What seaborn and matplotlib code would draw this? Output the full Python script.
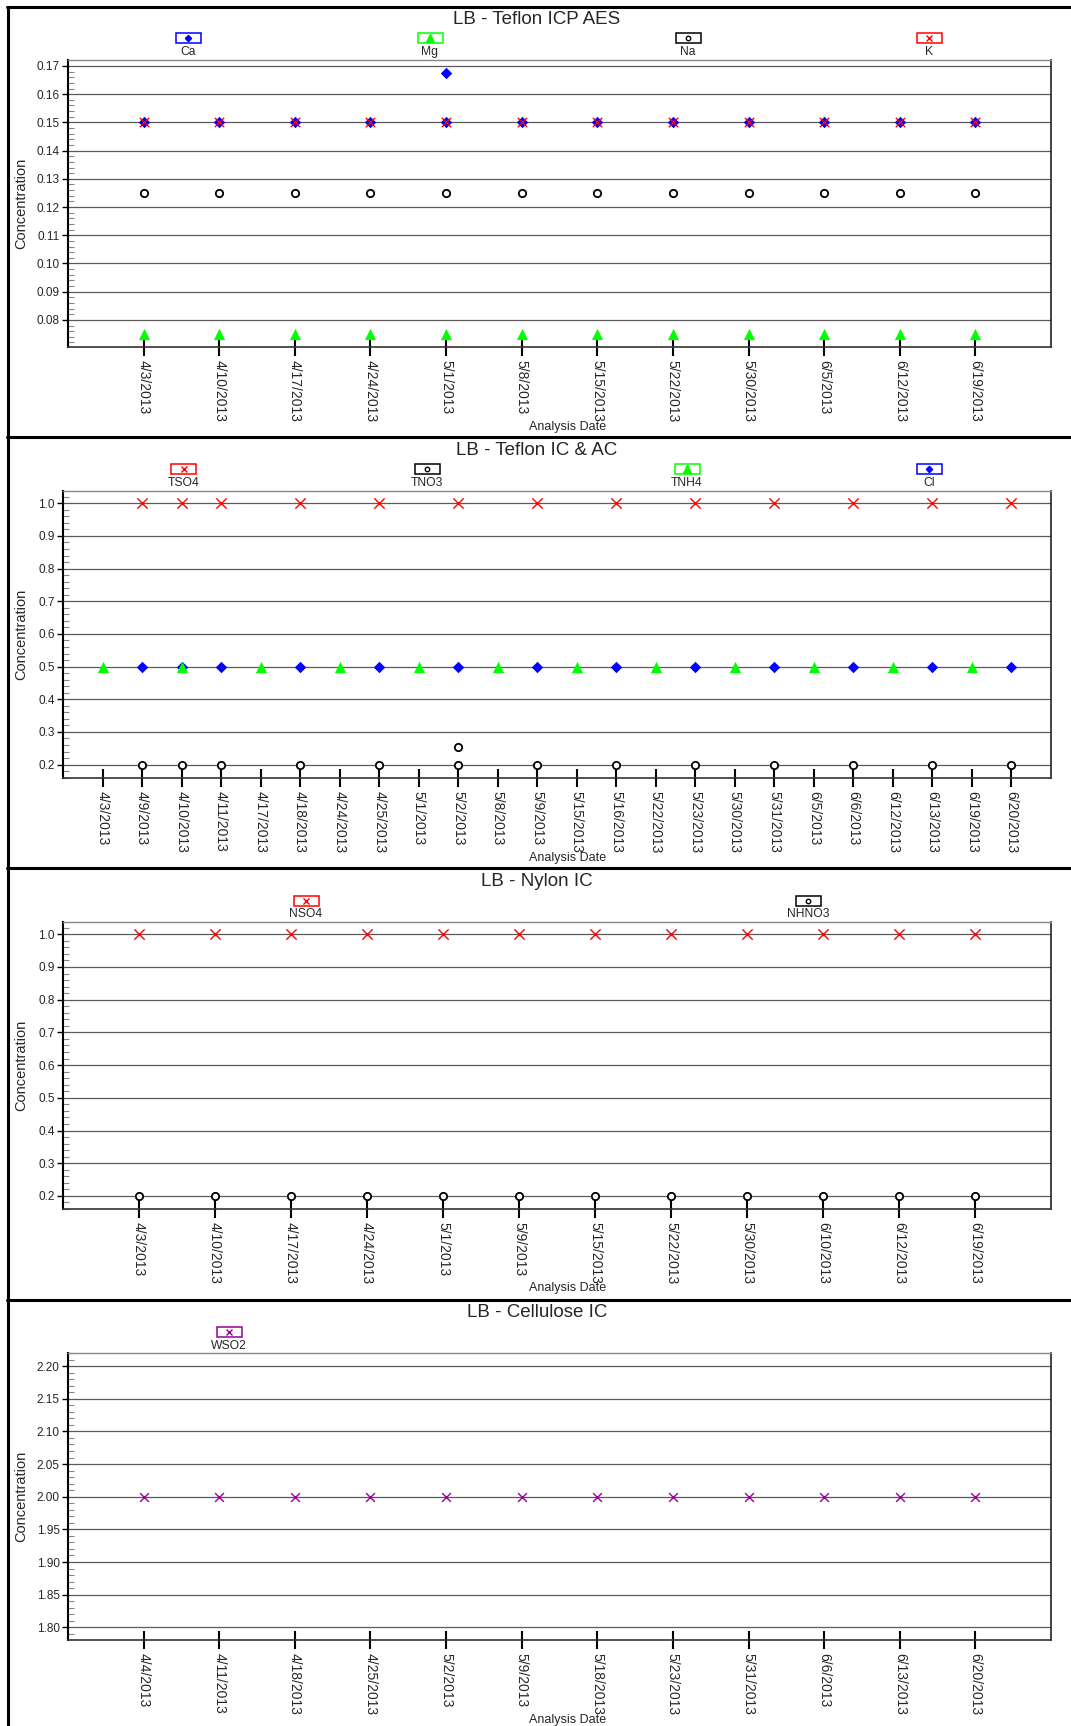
import matplotlib
matplotlib.use('Agg')
import matplotlib.pyplot as plt
import seaborn as sns
import pandas as pd
from matplotlib.ticker import MultipleLocator, AutoMinorLocator, FormatStrFormatter
from matplotlib.patches import Rectangle
from matplotlib.lines import Line2D

# ---------------- data ----------------
# LB - Teflon ICP AES
icp_dates = ['4/3/2013', '4/10/2013', '4/17/2013', '4/24/2013', '5/1/2013', '5/8/2013',
             '5/15/2013', '5/22/2013', '5/30/2013', '6/5/2013', '6/12/2013', '6/19/2013']
ca_dates = ['4/3/2013', '4/10/2013', '4/17/2013', '4/24/2013', '5/1/2013', '5/1/2013', '5/8/2013',
            '5/15/2013', '5/22/2013', '5/30/2013', '6/5/2013', '6/12/2013', '6/19/2013']
ca_vals = [0.15, 0.15, 0.15, 0.15, 0.15, 0.1675, 0.15, 0.15, 0.15, 0.15, 0.15, 0.15, 0.15]
mg_vals = [0.075, 0.075, 0.075, 0.075, 0.075, 0.075, 0.075, 0.075, 0.075, 0.075, 0.075, 0.075]
na_vals = [0.125, 0.125, 0.125, 0.125, 0.125, 0.125, 0.125, 0.125, 0.125, 0.125, 0.125, 0.125]
k_vals = [0.15, 0.15, 0.15, 0.15, 0.15, 0.15, 0.15, 0.15, 0.15, 0.15, 0.15, 0.15]

# LB - Teflon IC & AC
ic_dates = ['4/3/2013', '4/9/2013', '4/10/2013', '4/11/2013', '4/17/2013', '4/18/2013',
            '4/24/2013', '4/25/2013', '5/1/2013', '5/2/2013', '5/8/2013', '5/9/2013',
            '5/15/2013', '5/16/2013', '5/22/2013', '5/23/2013', '5/30/2013', '5/31/2013',
            '6/5/2013', '6/6/2013', '6/12/2013', '6/13/2013', '6/19/2013', '6/20/2013']
tso4_dates = ['4/9/2013', '4/10/2013', '4/11/2013', '4/18/2013', '4/25/2013', '5/2/2013',
              '5/9/2013', '5/16/2013', '5/23/2013', '5/31/2013', '6/6/2013', '6/13/2013', '6/20/2013']
tso4_vals = [1.0, 1.0, 1.0, 1.0, 1.0, 1.0, 1.0, 1.0, 1.0, 1.0, 1.0, 1.0, 1.0]
tno3_dates = ['4/9/2013', '4/10/2013', '4/11/2013', '4/18/2013', '4/25/2013', '5/2/2013', '5/2/2013',
              '5/9/2013', '5/16/2013', '5/23/2013', '5/31/2013', '6/6/2013', '6/13/2013', '6/20/2013']
tno3_vals = [0.2, 0.2, 0.2, 0.2, 0.2, 0.2, 0.253, 0.2, 0.2, 0.2, 0.2, 0.2, 0.2, 0.2]
tnh4_dates = ['4/3/2013', '4/10/2013', '4/17/2013', '4/24/2013', '5/1/2013', '5/8/2013',
              '5/15/2013', '5/22/2013', '5/30/2013', '6/5/2013', '6/12/2013', '6/19/2013']
tnh4_vals = [0.5, 0.5, 0.5, 0.5, 0.5, 0.5, 0.5, 0.5, 0.5, 0.5, 0.5, 0.5]
cl_dates = ['4/9/2013', '4/10/2013', '4/11/2013', '4/18/2013', '4/25/2013', '5/2/2013',
            '5/9/2013', '5/16/2013', '5/23/2013', '5/31/2013', '6/6/2013', '6/13/2013', '6/20/2013']
cl_vals = [0.5, 0.5, 0.5, 0.5, 0.5, 0.5, 0.5, 0.5, 0.5, 0.5, 0.5, 0.5, 0.5]

# LB - Nylon IC
nylon_dates = ['4/3/2013', '4/10/2013', '4/17/2013', '4/24/2013', '5/1/2013', '5/9/2013',
               '5/15/2013', '5/22/2013', '5/30/2013', '6/10/2013', '6/12/2013', '6/19/2013']
nso4_vals = [1.0, 1.0, 1.0, 1.0, 1.0, 1.0, 1.0, 1.0, 1.0, 1.0, 1.0, 1.0]
nhno3_vals = [0.2, 0.2, 0.2, 0.2, 0.2, 0.2, 0.2, 0.2, 0.2, 0.2, 0.2, 0.2]

# LB - Cellulose IC
cell_dates = ['4/4/2013', '4/11/2013', '4/18/2013', '4/25/2013', '5/2/2013', '5/9/2013',
              '5/18/2013', '5/23/2013', '5/31/2013', '6/6/2013', '6/13/2013', '6/20/2013']
wso2_vals = [2.0, 2.0, 2.0, 2.0, 2.0, 2.0, 2.0, 2.0, 2.0, 2.0, 2.0, 2.0]

# ---------------- styles ----------------
sns.set_style('white')
plt.rcParams['font.family'] = ['Liberation Sans', 'DejaVu Sans']

diamond = dict(marker='D', s=34, color='#0000ff', linewidth=0)
triangle = dict(marker='^', s=66, color='#00ff00', linewidth=0)
circle = dict(marker='o', s=28, facecolor='white', edgecolor='black', linewidth=1.3)
cross = dict(marker='x', s=55, color='#ff0000', linewidth=1.0)
cross_k = dict(marker='x', s=45, color='#ff0000', linewidth=1.0)
cross_p = dict(marker='x', s=40, color='#990099', linewidth=1.0)

# legend key: (marker, size, color)
key_diamond = ('D', 3.2, '#0000ff')
key_triangle = ('^', 5.5, '#00ff00')
key_circle = ('o', 3.2, 'black')
key_cross = ('x', 5, '#ff0000')
key_cross_p = ('x', 5, '#990099')

W, H = 1071, 1726


def fx(p):
    return p / W


def fy(p):
    return 1 - p / H


# each panel: title, categories, axes box in px (left, top, right, bottom), y setup, legend y's
panels = [
    dict(title='LB - Teflon ICP AES', dates=icp_dates, box=(68, 60, 1051, 347),
         ylim=(0.0704, 0.1721), step=0.01, fmt='%.2f', frame=7, title_y=24,
         key_y=38.5, lab_y=52, xlab_y=427,
         series=[('Ca', ca_dates, ca_vals, diamond, key_diamond, 188),
                 ('Mg', icp_dates, mg_vals, triangle, key_triangle, 430),
                 ('Na', icp_dates, na_vals, circle, key_circle, 688),
                 ('K', icp_dates, k_vals, cross_k, key_cross, 929)]),
    dict(title='LB - Teflon IC & AC', dates=ic_dates, box=(63, 491, 1051, 778),
         ylim=(0.159, 1.0376), step=0.1, fmt='%.1f', frame=437, title_y=455,
         key_y=469, lab_y=483, xlab_y=858,
         series=[('TSO4', tso4_dates, tso4_vals, cross, key_cross, 184),
                 ('TNO3', tno3_dates, tno3_vals, circle, key_circle, 427),
                 ('Cl', cl_dates, cl_vals, diamond, key_diamond, 929),
                 ('TNH4', tnh4_dates, tnh4_vals, triangle, key_triangle, 687)]),
    dict(title='LB - Nylon IC', dates=nylon_dates, box=(63, 922, 1051, 1209),
         ylim=(0.160, 1.0376), step=0.1, fmt='%.1f', frame=868, title_y=886,
         key_y=901, lab_y=914, xlab_y=1288,
         series=[('NSO4', nylon_dates, nso4_vals, cross, key_cross, 306),
                 ('NHNO3', nylon_dates, nhno3_vals, circle, key_circle, 808)]),
    dict(title='LB - Cellulose IC', dates=cell_dates, box=(68, 1353, 1051, 1640),
         ylim=(1.7806, 2.22), step=0.05, fmt='%.2f', frame=1300, title_y=1317,
         key_y=1332, lab_y=1346, xlab_y=1720,
         series=[('WSO2', cell_dates, wso2_vals, cross_p, key_cross_p, 229)]),
]

fig = plt.figure(figsize=(W / 100, H / 100), dpi=100)

for p in panels:
    left, top, right, bottom = p['box']
    ax = fig.add_axes([fx(left), fy(bottom), (right - left) / W, (bottom - top) / H])
    ax.set_axisbelow(True)

    for name, xd, vals, style, key, kx in p['series']:
        df = pd.DataFrame({'date': pd.Categorical(xd, categories=p['dates']), 'conc': vals})
        sns.scatterplot(data=df, x='date', y='conc', ax=ax, legend=False, zorder=3,
                        clip_on=False, **style)

        # legend key: small framed symbol with the name below it
        fig.add_artist(Rectangle((fx(kx - 12.5), fy(p['key_y'] + 5)), 25 / W, 10 / H,
                                 transform=fig.transFigure, fill=False,
                                 edgecolor=key[2], lw=1.1))
        fig.add_artist(Line2D([fx(kx)], [fy(p['key_y'])], transform=fig.transFigure,
                              marker=key[0], ms=key[1], color=key[2],
                              mfc=key[2] if key[0] != 'o' else 'white',
                              mew=1.0, linestyle='none'))
        fig.text(fx(kx), fy(p['lab_y']), name, ha='center', va='center', fontsize=8.7)

    n = len(p['dates'])
    ax.set_xlim(-1, n)
    ax.set_ylim(*p['ylim'])
    ax.yaxis.set_major_locator(MultipleLocator(p['step']))
    ax.yaxis.set_minor_locator(AutoMinorLocator(5))
    ax.yaxis.set_major_formatter(FormatStrFormatter(p['fmt']))
    ax.grid(axis='y', which='major', color='#5a5a5a', lw=0.9)
    ax.grid(axis='x', visible=False)

    ax.tick_params(axis='x', direction='inout', length=13, width=1.5, color='black',
                   pad=3, labelsize=10, labelrotation=270, bottom=True)
    ax.tick_params(axis='y', which='major', direction='out', length=4, width=1,
                   color='black', pad=2, labelsize=8.5, left=True)
    ax.tick_params(axis='y', which='minor', direction='in', length=4, width=0.8,
                   color='#888888', left=True)

    ax.spines['left'].set_color('black')
    ax.spines['left'].set_linewidth(1.5)
    ax.spines['bottom'].set_color('#333333')
    ax.spines['bottom'].set_linewidth(1.2)
    ax.spines['top'].set_color('#888888')
    ax.spines['top'].set_linewidth(1.0)
    ax.spines['right'].set_color('#222222')
    ax.spines['right'].set_linewidth(1.2)

    ax.set_ylabel('Concentration', fontsize=10.5)
    ax.yaxis.set_label_coords(fx(21), fy((top + bottom) / 2), transform=fig.transFigure)
    ax.yaxis.label.set_va('center')
    ax.set_xlabel('Analysis Date', fontsize=9)
    ax.xaxis.set_label_coords(fx(568), fy(p['xlab_y']), transform=fig.transFigure)
    ax.xaxis.label.set_va('center')

    fig.text(fx(537), fy(p['title_y']), p['title'], ha='center', va='baseline', fontsize=13.5)

    # panel frame line on top of each block
    fig.add_artist(Line2D([fx(7), 1], [fy(p['frame']), fy(p['frame'])],
                          transform=fig.transFigure, color='black', lw=2.2))

# left border running down the whole stack
fig.add_artist(Line2D([fx(8), fx(8)], [fy(7), 0], transform=fig.transFigure,
                      color='black', lw=2.2))

fig.savefig('out.png', dpi=100)
